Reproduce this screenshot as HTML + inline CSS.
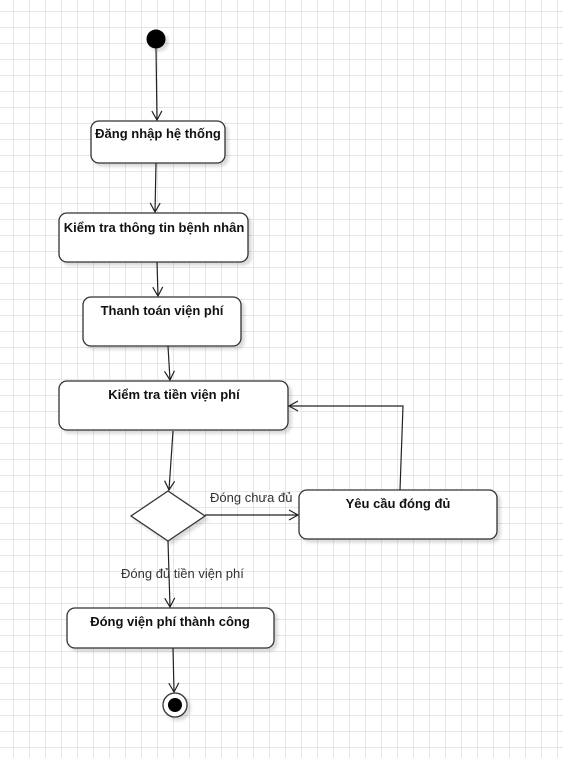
<!DOCTYPE html>
<html><head><meta charset="utf-8"><style>
body{margin:0;width:563px;height:758px;overflow:hidden;background:#fff;
background-image:linear-gradient(#e6e6e6 1px,transparent 1px),linear-gradient(90deg,#e6e6e6 1px,transparent 1px);background-size:16px 16px;background-position:-3px -5px}
svg{position:absolute;left:0;top:0}
text{font-family:"Liberation Sans",sans-serif;font-size:13px;fill:#111}
.b{font-weight:bold}
</style></head><body>
<svg width="563" height="758" viewBox="0 0 563 758">
<defs><filter id="s" x="-10%" y="-10%" width="130%" height="140%"><feDropShadow dx="3" dy="3" stdDeviation="1.5" flood-color="#000" flood-opacity="0.15"/></filter>
<marker id="a" markerWidth="12" markerHeight="12" refX="10" refY="6" orient="auto" markerUnits="userSpaceOnUse"><path d="M1,1 L10,6 L1,11" fill="none" stroke="#222" stroke-width="1.2"/></marker></defs>
<g fill="#fff" stroke="#333" stroke-width="1.3" filter="url(#s)">
<rect x="91" y="121" width="134" height="42" rx="8"/>
<rect x="59" y="213" width="189" height="49" rx="8"/>
<rect x="83" y="297" width="158" height="49" rx="8"/>
<rect x="59" y="381" width="229" height="49" rx="8"/>
<rect x="299" y="490" width="198" height="49" rx="8"/>
<rect x="67" y="608" width="207" height="40" rx="8"/>
<polygon points="131,516 168,491 205,516 168,541"/>
<circle cx="175" cy="705" r="12"/>
</g>
<circle cx="156" cy="39" r="9.5" fill="#000" filter="url(#s)"/>
<circle cx="175" cy="705" r="7" fill="#000"/>
<g stroke="#222" stroke-width="1.2" fill="none" marker-end="url(#a)">
<line x1="156" y1="48" x2="157" y2="120"/>
<line x1="156" y1="163" x2="155" y2="212"/>
<line x1="157" y1="262" x2="158" y2="296"/>
<line x1="168" y1="346" x2="170" y2="380"/>
<line x1="173" y1="431" x2="169" y2="490"/>
<line x1="205" y1="515" x2="298" y2="515"/>
<polyline points="400,490 403,406 289,406"/>
<line x1="168" y1="541" x2="170" y2="607"/>
<line x1="173" y1="648" x2="174" y2="692"/>
</g>
<text class="b" x="158" y="138" text-anchor="middle">Đăng nhập hệ thống</text>
<text class="b" x="154" y="232" text-anchor="middle">Kiểm tra thông tin bệnh nhân</text>
<text class="b" x="162" y="315" text-anchor="middle">Thanh toán viện phí</text>
<text class="b" x="174" y="399" text-anchor="middle">Kiểm tra tiền viện phí</text>
<text class="b" x="398" y="508" text-anchor="middle">Yêu cầu đóng đủ</text>
<text class="b" x="170" y="626" text-anchor="middle">Đóng viện phí thành công</text>
<text x="210" y="502" style="fill:#333">Đóng chưa đủ</text>
<text x="121" y="578" style="fill:#333">Đóng đủ tiền viện phí</text>
</svg>
</body></html>
